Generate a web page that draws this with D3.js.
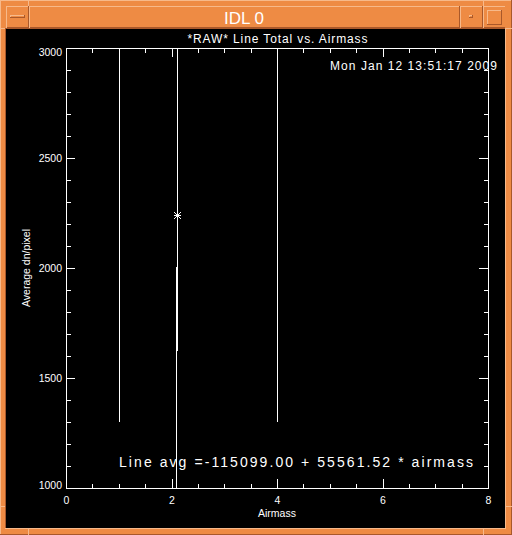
<!DOCTYPE html>
<html>
<head>
<meta charset="utf-8">
<script src="https://cdn.jsdelivr.net/npm/d3@7"></script>
<style>
  html, body { margin: 0; padding: 0; background: #000; }
  svg { display: block; }
  text { font-family: "Liberation Sans", Arial, sans-serif; fill: #fff; }
</style>
</head>
<body>
<div id="idl-window"></div>
<script>
// Data
var segAirmass = [1.00, 2.08, 2.10, 4.00];
var segBottom = [1300, 900, 1623, 1300];
var segTop = [3100, 2005, 3100, 3100];

var starAirmass = [2.10];
var starValue = [2241];

// Axis ticks
var xMajorTicks = [0, 2, 4, 6, 8];
var yMajorTicks = [1000, 1500, 2000, 2500, 3000];

var titleText = "*RAW* Line Total vs. Airmass";
var dateText = "Mon Jan 12 13:51:17 2009";
var fitText = "Line avg =-115099.00 + 55561.52 * airmass";

// Colors
var frameFill = "#ee8b44";
var frameLight = "#f7b98a";
var frameDark = "#a9582a";
var inkColor = "#ffffff";

// Dimensions
const winWidth = 512;
const winHeight = 535;
const plotLeft = 66, plotRight = 488;
const plotTop = 48, plotBottom = 488;
const majorLen = 9;
const minorLen = 4.5;
const starArm = 3.5; // half size of the IDL psym=2 asterisk

let svg = d3.select("#idl-window")
  .append("svg")
  .attr("width", winWidth)
  .attr("height", winHeight);

/*
Window decoration (Motif style frame around the IDL graphics window).
*/
function drawFrame() {
  svg.append("rect")
    .attr("width", winWidth).attr("height", winHeight)
    .attr("fill", frameFill);

  let edges = [
    // outer bevel
    [0, 0.5, winWidth, 0.5, frameLight],
    [0.5, 0, 0.5, winHeight, frameLight],
    [0, winHeight - 0.5, winWidth, winHeight - 0.5, frameDark],
    [winWidth - 0.5, 0, winWidth - 0.5, winHeight, frameDark],
    // title bar bevel
    [6, 6.5, 505, 6.5, frameLight],
    [6, 27.5, 505, 27.5, frameDark],
    [6.5, 6, 6.5, 28, frameLight],
    // button separators
    [28.5, 6, 28.5, 28, frameDark],
    [29.5, 6, 29.5, 28, frameLight],
    [459.5, 6, 459.5, 28, frameDark],
    [460.5, 6, 460.5, 28, frameLight],
    [482.5, 6, 482.5, 28, frameDark],
    [483.5, 6, 483.5, 28, frameLight],
    // resize corner marks
    [28.5, 0, 28.5, 6, frameLight],
    [483.5, 0, 483.5, 6, frameLight],
    [28.5, 528, 28.5, winHeight, frameLight],
    [483.5, 528, 483.5, winHeight, frameLight],
    [0, 28.5, 6, 28.5, frameLight],
    [505, 28.5, winWidth, 28.5, frameLight],
    [0, 506.5, 6, 506.5, frameLight],
    [505, 506.5, winWidth, 506.5, frameLight],
    // inner bevel around client area
    [5.5, 28, 5.5, 529, frameDark],
    [5, 28.5, 506, 28.5, frameDark],
    [505.5, 28, 505.5, 529, frameLight],
    [5, 528.5, 506, 528.5, frameLight]
  ];

  svg.selectAll("line.frame")
    .data(edges)
    .enter()
    .append("line")
    .attr("class", "frame")
    .attr("x1", d => d[0]).attr("y1", d => d[1])
    .attr("x2", d => d[2]).attr("y2", d => d[3])
    .attr("stroke", d => d[4])
    .attr("shape-rendering", "crispEdges");

  // window menu button bar
  bevelBox(10, 15, 15, 3);
  // minimize and maximize buttons
  bevelBox(469, 15, 4, 3);
  bevelBox(487, 10, 15, 15);

  svg.append("text")
    .attr("x", 244)
    .attr("y", 24)
    .attr("text-anchor", "middle")
    .attr("font-size", "17px")
    .text("IDL 0");

  // client area
  svg.append("rect")
    .attr("x", 6).attr("y", 29)
    .attr("width", 499).attr("height", 499)
    .attr("fill", "#000");
}

function bevelBox(x, y, w, h) {
  let g = svg.append("g").attr("shape-rendering", "crispEdges");
  g.append("path")
    .attr("d", `M${x + 0.5},${y + h}V${y + 0.5}H${x + w}`)
    .attr("fill", "none").attr("stroke", frameLight);
  g.append("path")
    .attr("d", `M${x + w - 0.5},${y}V${y + h - 0.5}H${x}`)
    .attr("fill", "none").attr("stroke", frameDark);
}

drawFrame();

// Scales
let x = d3.scaleLinear().domain([0, 8]).range([plotLeft, plotRight]);
let y = d3.scaleLinear().domain([1000, 3000]).range([plotBottom, plotTop]);

let xMinorTicks = d3.range(0, 8.001, 0.5);
let yMinorTicks = d3.range(1000, 3000.001, 100);

/*
Box axes with IDL style inward ticks.
*/
function drawAxes() {
  let plot = svg.append("g").attr("class", "axes");

  function styleAxis(g) {
    g.select(".domain").remove();
    g.selectAll("line")
      .attr("stroke", inkColor)
      .attr("shape-rendering", "crispEdges");
    g.selectAll("text")
      .attr("fill", inkColor)
      .attr("font-family", "'Liberation Sans', Arial, sans-serif")
      .attr("font-size", "10.5px");
  }

  // bottom
  plot.append("g")
    .attr("transform", `translate(0,${plotBottom})`)
    .call(d3.axisBottom(x).tickValues(xMinorTicks).tickSize(-minorLen).tickFormat(""))
    .call(styleAxis);
  plot.append("g")
    .attr("transform", `translate(0,${plotBottom})`)
    .call(d3.axisBottom(x).tickValues(xMajorTicks).tickSize(-majorLen).tickPadding(9).tickFormat(d3.format("d")))
    .call(styleAxis);

  // top
  plot.append("g")
    .attr("transform", `translate(0,${plotTop})`)
    .call(d3.axisTop(x).tickValues(xMinorTicks).tickSize(-minorLen).tickFormat(""))
    .call(styleAxis);
  plot.append("g")
    .attr("transform", `translate(0,${plotTop})`)
    .call(d3.axisTop(x).tickValues(xMajorTicks).tickSize(-majorLen).tickFormat(""))
    .call(styleAxis);

  // left
  plot.append("g")
    .attr("transform", `translate(${plotLeft},0)`)
    .call(d3.axisLeft(y).tickValues(yMinorTicks).tickSize(-minorLen).tickFormat(""))
    .call(styleAxis);
  let left = plot.append("g")
    .attr("transform", `translate(${plotLeft},0)`)
    .call(d3.axisLeft(y).tickValues(yMajorTicks).tickSize(-majorLen).tickPadding(4).tickFormat(d3.format("d")))
    .call(styleAxis);
  // IDL pulls the end labels inside the axis range
  left.selectAll("text")
    .attr("dy", d => d === 3000 ? "0.72em" : d === 1000 ? "0" : "0.36em");

  // right
  plot.append("g")
    .attr("transform", `translate(${plotRight},0)`)
    .call(d3.axisRight(y).tickValues(yMinorTicks).tickSize(-minorLen).tickFormat(""))
    .call(styleAxis);
  plot.append("g")
    .attr("transform", `translate(${plotRight},0)`)
    .call(d3.axisRight(y).tickValues(yMajorTicks).tickSize(-majorLen).tickFormat(""))
    .call(styleAxis);

  // box
  plot.append("rect")
    .attr("x", plotLeft + 0.5)
    .attr("y", plotTop + 0.5)
    .attr("width", plotRight - plotLeft)
    .attr("height", plotBottom - plotTop)
    .attr("fill", "none")
    .attr("stroke", inkColor)
    .attr("shape-rendering", "crispEdges");

  // axis titles
  svg.append("text")
    .attr("x", (plotLeft + plotRight) / 2)
    .attr("y", 517)
    .attr("text-anchor", "middle")
    .attr("font-size", "10.5px")
    .text("Airmass");

  svg.append("text")
    .attr("transform", `translate(29.5,${(plotTop + plotBottom) / 2}) rotate(-90)`)
    .attr("text-anchor", "middle")
    .attr("font-size", "10.5px")
    .text("Average dn/pixel");
}

drawAxes();

/*
Data traces, clipped to the plot box.
*/
function drawData() {
  svg.append("clipPath")
    .attr("id", "plot-clip")
    .append("rect")
    .attr("x", plotLeft).attr("y", plotTop)
    .attr("width", plotRight - plotLeft + 1)
    .attr("height", plotBottom - plotTop + 1);

  let segs = segAirmass.map((a, i) => ({ a: a, lo: segBottom[i], hi: segTop[i] }));

  let g = svg.append("g").attr("clip-path", "url(#plot-clip)");

  g.selectAll("line.trace")
    .data(segs)
    .enter()
    .append("line")
    .attr("class", "trace")
    .attr("x1", d => Math.round(x(d.a)) + 0.5)
    .attr("x2", d => Math.round(x(d.a)) + 0.5)
    .attr("y1", d => y(d.hi))
    .attr("y2", d => y(d.lo))
    .attr("stroke", inkColor)
    .attr("shape-rendering", "crispEdges");

  // IDL asterisk: horizontal, vertical and two diagonal strokes
  let s = starArm;
  let starPath = `M${-s},0H${s}M0,${-s}V${s}M${-s},${-s}L${s},${s}M${-s},${s}L${s},${-s}`;

  let stars = starAirmass.map((a, i) => ({ a: a, v: starValue[i] }));
  g.selectAll("path.star")
    .data(stars)
    .enter()
    .append("path")
    .attr("class", "star")
    .attr("transform", d => `translate(${Math.round(x(d.a)) + 0.5},${Math.round(y(d.v)) + 0.5})`)
    .attr("d", starPath)
    .attr("fill", "none")
    .attr("stroke", inkColor)
    .attr("shape-rendering", "crispEdges");
}

drawData();

// Title, date stamp and fit annotation
svg.append("text")
  .attr("x", (plotLeft + plotRight) / 2 + 0.5)
  .attr("y", 43)
  .attr("text-anchor", "middle")
  .attr("font-size", "12px")
  .attr("textLength", 180)
  .attr("lengthAdjust", "spacing")
  .text(titleText);

svg.append("text")
  .attr("x", 330)
  .attr("y", 70)
  .attr("font-size", "12px")
  .attr("textLength", 167)
  .attr("lengthAdjust", "spacing")
  .text(dateText);

svg.append("text")
  .attr("x", 119)
  .attr("y", 467)
  .attr("font-size", "14px")
  .attr("textLength", 354)
  .attr("lengthAdjust", "spacing")
  .text(fitText);
</script>
</body>
</html>
